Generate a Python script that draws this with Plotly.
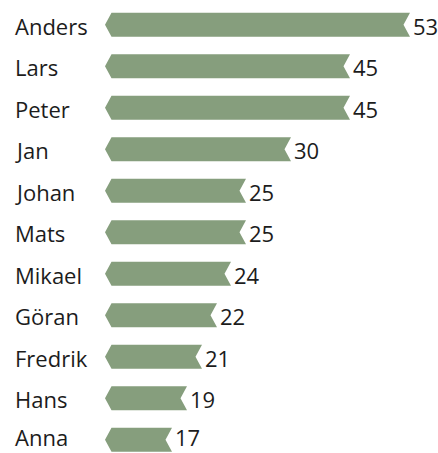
import plotly.graph_objects as go

names = ["Anders", "Lars", "Peter", "Jan", "Johan", "Mats", "Mikael", "Göran", "Fredrik", "Hans", "Anna"]
values = [53, 45, 45, 30, 25, 25, 24, 22, 21, 19, 17]
# drawn bar lengths (px-like units from arrow tip)
bar_lengths = [305, 245, 245, 186, 141, 141, 126, 112, 97, 82, 67]

BAR_COLOR = "#869e7d"
TEXT_COLOR = "#1c1c1c"
FONT = "Open Sans"

tip = 6.5     # chevron depth (x units)
half = 0.29   # half bar height (y units)

xs, ys = [], []
for i, L in enumerate(bar_lengths):
    c = i
    xs += [0, tip, L, L - tip, L, tip, 0, None]
    ys += [c, c - half, c - half, c, c + half, c + half, c, None]

fig = go.Figure()
fig.add_trace(go.Scatter(
    x=xs, y=ys, fill="toself", mode="lines",
    line=dict(width=0, color=BAR_COLOR), fillcolor=BAR_COLOR,
    hoverinfo="skip", showlegend=False,
))

annotations = []
n_rows = len(names)
for i, (n, v, L) in enumerate(zip(names, values, bar_lengths)):
    ys_shift = 3 if i == n_rows - 1 else -1
    annotations.append(dict(
        x=-92, y=i, xref="x", yref="y", text=n, showarrow=False,
        xanchor="left", yanchor="middle", yshift=ys_shift,
        font=dict(family=FONT, size=22, color=TEXT_COLOR),
    ))
    annotations.append(dict(
        x=L, y=i, xref="x", yref="y", text=str(v), showarrow=False,
        xanchor="left", yanchor="middle", xshift=1, yshift=ys_shift,
        font=dict(family=FONT, size=22, color=TEXT_COLOR),
    ))

fig.update_layout(
    width=438, height=453,
    margin=dict(l=0, r=0, t=0, b=0),
    paper_bgcolor="white", plot_bgcolor="white",
    xaxis=dict(range=[-105, 333], visible=False, fixedrange=True),
    yaxis=dict(range=[10.32, -0.595], visible=False, fixedrange=True),
    annotations=annotations,
    showlegend=False,
)

fig.write_html("out.html")
